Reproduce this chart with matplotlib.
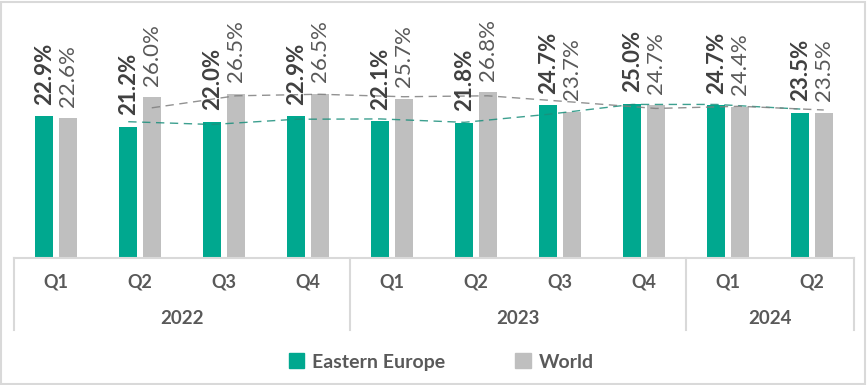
# Eastern Europe vs World, quarterly share (clustered columns + 2-period moving average)

import numpy as np
import matplotlib.pyplot as plt
import pandas as pd
from matplotlib.patches import Rectangle, Patch

# data
quarters = ['Q1', 'Q2', 'Q3', 'Q4', 'Q1', 'Q2', 'Q3', 'Q4', 'Q1', 'Q2']
years = ['2022', '2022', '2022', '2022', '2023', '2023', '2023', '2023', '2024', '2024']
eastern_europe = [22.9, 21.2, 22.0, 22.9, 22.1, 21.8, 24.7, 25.0, 24.7, 23.5]
world = [22.6, 26.0, 26.5, 26.5, 25.7, 26.8, 23.7, 24.7, 24.4, 23.5]

teal = '#00A88F'
grey = '#BFBFBF'
txt = '#595959'
plt.rcParams['font.family'] = ['Lato', 'DejaVu Sans']

W, H = 868, 385
fig = plt.figure(figsize=(W / 100, H / 100), dpi=100)
base = 257.7
top = 11
ax = fig.add_axes([14 / W, (H - base) / H, 840 / W, (base - top) / H])

x = np.arange(len(quarters)) + 0.5
bw = 0.215
off = 0.14
ax.bar(x - off, eastern_europe, bw, color=teal, zorder=2)
ax.bar(x + off, world, bw, color=grey, zorder=2)

# moving average trendlines (period 2)
ma_ee = pd.Series(eastern_europe).rolling(2).mean()
ma_w = pd.Series(world).rolling(2).mean()
ax.plot(x - off, ma_ee, color='#1B8F7C', lw=1, ls=(0, (6, 4)), alpha=0.85, zorder=3)
ax.plot(x + off, ma_w, color='#7F7F7F', lw=1, ls=(0, (6, 4)), alpha=0.85, zorder=3)

for xi, v in zip(x - off, eastern_europe):
    ax.annotate(f'{v:.1f}%', (xi, v), xytext=(0, 8.5), textcoords='offset points',
                rotation=90, ha='center', va='bottom', fontsize=16,
                fontweight='bold', color='#404040')
for xi, v in zip(x + off, world):
    ax.annotate(f'{v:.1f}%', (xi, v), xytext=(0, 8.5), textcoords='offset points',
                rotation=90, ha='center', va='bottom', fontsize=16, color=txt)

ax.set_xlim(0, len(quarters))
ax.set_ylim(0, 40)
ax.axis('off')

# category axis drawn as table
tr = ax.get_xaxis_transform()
ah = base - top
line_c = '#D9D9D9'
ax.plot([0, len(quarters)], [0, 0], color=line_c, lw=1.5, transform=tr, clip_on=False)
bounds = [0]
for i in range(1, len(years)):
    if years[i] != years[i - 1]:
        bounds.append(i)
bounds.append(len(years))
for b in bounds:
    ax.plot([b, b], [0, -(330 - base) / ah], color=line_c, lw=1.5,
            transform=tr, clip_on=False)
for xi, q in zip(x, quarters):
    ax.text(xi, -(282 - base) / ah, q, transform=tr, ha='center', va='center',
            fontsize=13, fontweight='bold', color=txt)
for a, b in zip(bounds[:-1], bounds[1:]):
    ax.text((a + b) / 2, -(319 - base) / ah, years[a], transform=tr,
            ha='center', va='center', fontsize=13.5, fontweight='bold', color=txt)

# legend
handles = [Patch(color=teal, label='Eastern Europe'), Patch(color=grey, label='World')]
fig.legend(handles=handles, loc='center', bbox_to_anchor=(441 / W, 1 - 362 / H),
           ncol=2, frameon=False, prop={'size': 14, 'weight': 'bold'},
           labelcolor=txt, handlelength=0.8, handleheight=0.8,
           handletextpad=0.4, columnspacing=3.6)

# outer border
fig.add_artist(Rectangle((1 / W, 1 / H), 864 / W, 382 / H, transform=fig.transFigure,
                         fill=False, edgecolor='#D9D9D9', lw=1.5))

fig.savefig('out.png', dpi=100)
